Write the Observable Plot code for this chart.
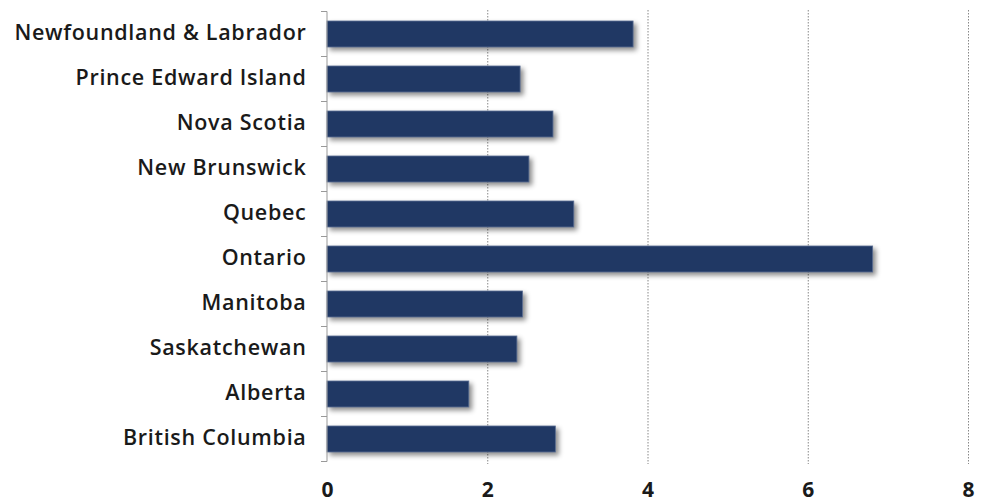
<!DOCTYPE html>
<html>
<head>
<meta charset="utf-8">
<script src="https://cdn.jsdelivr.net/npm/d3@7"></script>
<script src="https://cdn.jsdelivr.net/npm/@observablehq/plot@0.6"></script>
<style>
  html, body { margin: 0; padding: 0; background: #fff; }
  #chart svg g[aria-label="bar"] rect { filter: drop-shadow(3px 3px 2.5px rgba(0,0,0,0.45)); }
  #chart svg g[aria-label="y-axis tick label"] text { letter-spacing: 0.7px; }
</style>
</head>
<body>
<div id="chart"></div>
<script>
const provinces = [
  "Newfoundland & Labrador",
  "Prince Edward Island",
  "Nova Scotia",
  "New Brunswick",
  "Quebec",
  "Ontario",
  "Manitoba",
  "Saskatchewan",
  "Alberta",
  "British Columbia"
];
const values = [3.82, 2.41, 2.82, 2.52, 3.08, 6.81, 2.44, 2.37, 1.77, 2.85];
const xTicks = [0, 2, 4, 6, 8];

const data = provinces.map((p, i) => ({province: p, value: values[i]}));

function boundaryTicks(index, scales, values, dims) {
  const y = scales.y, x = scales.x;
  const step = y.step(), bw = y.bandwidth();
  const gap = (step - bw) / 2;
  const ys = provinces.map(p => y(p) - gap);
  ys.push(y(provinces[provinces.length - 1]) + bw + gap);
  const g = d3.create("svg:g").attr("stroke", "#999").attr("stroke-width", 1);
  const x0 = x(0);
  for (const v of ys) {
    g.append("line").attr("x1", x0 - 6).attr("x2", x0).attr("y1", v).attr("y2", v);
  }
  g.append("line").attr("x1", x0).attr("x2", x0).attr("y1", ys[0]).attr("y2", ys[ys.length - 1]);
  return g.node();
}

const chart = Plot.plot({
  width: 982,
  height: 504,
  marginLeft: 327,
  marginRight: 14,
  marginTop: 10,
  marginBottom: 40,
  style: {fontFamily: "'Open Sans', sans-serif", color: "#1a1a1a", background: "#fff"},
  x: {domain: [0, 8]},
  y: {domain: provinces, paddingInner: 0.42, paddingOuter: 0.21},
  marks: [
    Plot.gridX(xTicks.filter(d => d > 0), {stroke: "#888", strokeOpacity: 1, strokeDasharray: "1.5,1.5", strokeWidth: 1}),
    Plot.barX(data, {x: "value", y: "province", fill: "#203864", stroke: "#5b6e93", strokeWidth: 0.8}),
    boundaryTicks,
    Plot.axisY({tickSize: 0, tickPadding: 21, fontSize: 21.5, fontWeight: 600, label: null, dy: -1}),
    Plot.axisX({ticks: xTicks, tickSize: 0, tickPadding: 18, fontSize: 21, fontWeight: 700, label: null})
  ]
});
document.getElementById("chart").appendChild(chart);
</script>
</body>
</html>
